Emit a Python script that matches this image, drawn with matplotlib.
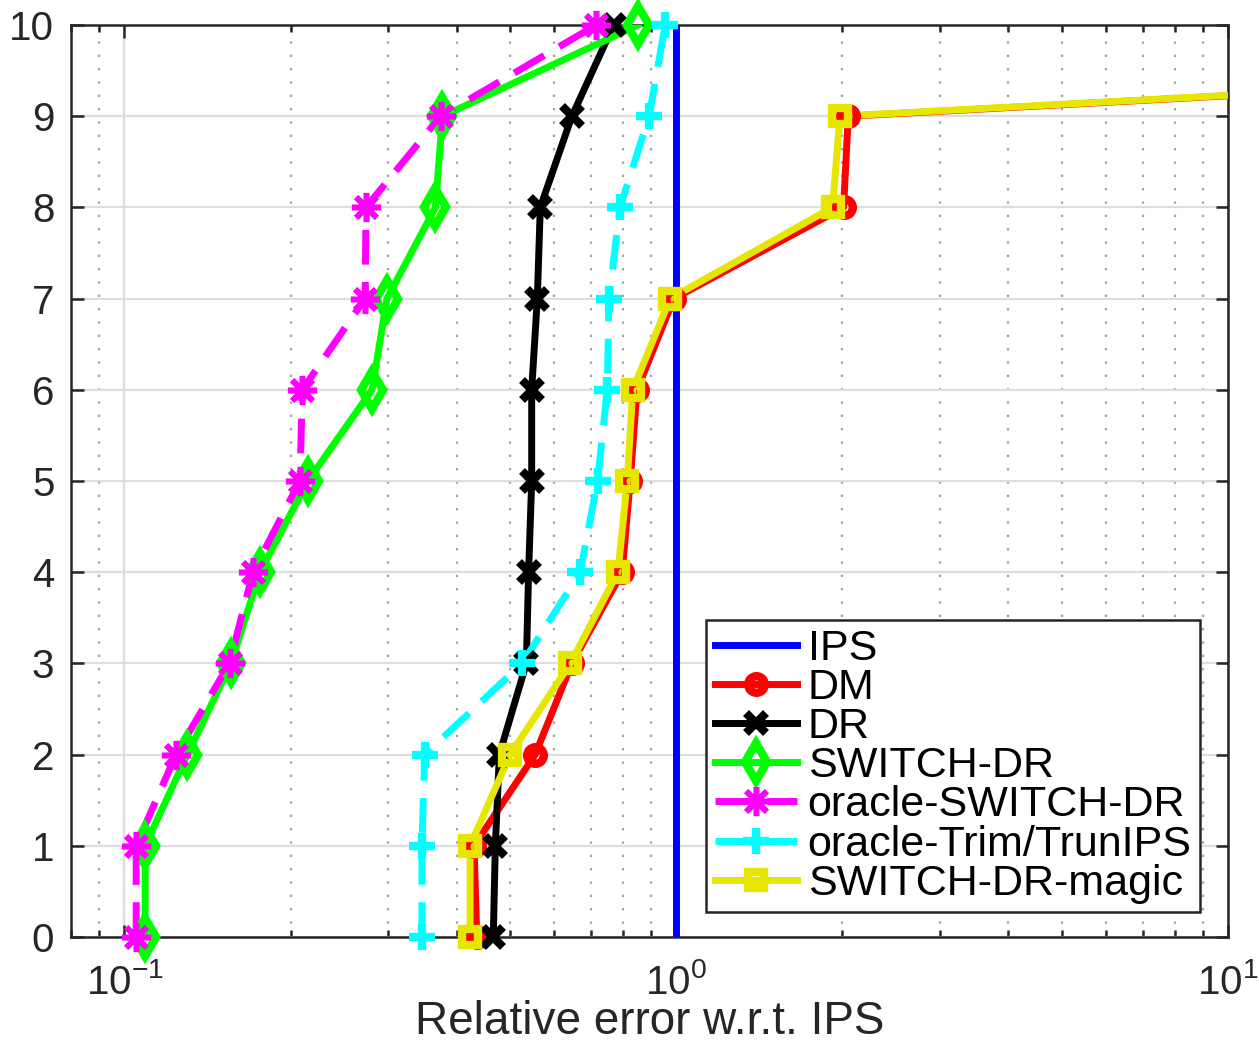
import numpy as np
import matplotlib
matplotlib.use('Agg')
import matplotlib.pyplot as plt
from matplotlib.lines import Line2D
from matplotlib.ticker import LogLocator, NullFormatter

plt.rcParams['font.family'] = ['Liberation Sans', 'DejaVu Sans']
plt.rcParams['mathtext.fontset'] = 'custom'
plt.rcParams['mathtext.rm'] = 'Liberation Sans'

levels = np.arange(0, 11)

ips = [1.0] * 11
dm = [0.435, 0.43, 0.555, 0.647, 0.798, 0.825, 0.849, 0.99, 2.01, 2.05, 2400]
dr = [0.466, 0.47, 0.478, 0.535, 0.54, 0.547, 0.547, 0.56, 0.567, 0.647, 0.77]
switch_dr = [0.109, 0.109, 0.130, 0.156, 0.176, 0.215, 0.281, 0.299, 0.366, 0.377, 0.853]
oracle_switch = [0.105, 0.105, 0.124, 0.155, 0.171, 0.208, 0.21, 0.273, 0.274, 0.374, 0.716]
oracle_trim = [0.346, 0.346, 0.35, 0.526, 0.67, 0.72, 0.75, 0.755, 0.791, 0.893, 0.955]
magic = [0.423, 0.423, 0.50, 0.643, 0.784, 0.815, 0.834, 0.975, 1.92, 1.98, 2400]

DASH = (0, (5, 2.5))
series = [
    ('IPS', ips, dict(color=(0, 0, 1), marker='None', ms=0, mew=0, ls='-')),
    ('DM', dm, dict(color=(1, 0, 0), marker='o', ms=12, mew=6, ls='-')),
    ('DR', dr, dict(color='k', marker='x', ms=15, mew=6, ls='-')),
    ('SWITCH-DR', switch_dr, dict(color=(0, 1, 0), marker='d', ms=19, mew=6, ls='-')),
    ('oracle-SWITCH-DR', oracle_switch, dict(color=(1, 0, 1), marker=(8, 2, 0), ms=21, mew=4, ls=DASH)),
    ('oracle-Trim/TrunIPS', oracle_trim, dict(color=(0, 1, 1), marker='+', ms=19, mew=6, ls=DASH)),
    ('SWITCH-DR-magic', magic, dict(color=(0.9, 0.9, 0), marker='s', ms=12, mew=6, ls='-')),
]

XMIN, XMAX = 0.08, 10

fig = plt.figure(figsize=(12.59, 10.51), dpi=100)
ax = fig.add_axes([0.0564, 0.1085, 0.919, 0.8677])

LW = 5
handles = []
for name, xs, st in series:
    xs = np.asarray(xs, dtype=float)
    ax.plot(xs, levels, color=st['color'], lw=LW, ls=st['ls'], zorder=3)
    if st['marker'] != 'None':
        m = xs <= XMAX
        ax.plot(xs[m], levels[m], ls='none', marker=st['marker'], ms=st['ms'],
                mec=st['color'], mfc='none', mew=st['mew'], clip_on=False, zorder=4)
    handles.append(Line2D([], [], color=st['color'], lw=LW, ls=st['ls'],
                          marker=st['marker'], ms=st['ms'], mec=st['color'],
                          mfc='none', mew=st['mew']))

ax.set_xscale('log')
ax.set_xlim(XMIN, XMAX)
ax.set_ylim(0, 10)
ax.set_yticks(range(0, 11))
ax.xaxis.set_minor_locator(LogLocator(base=10, subs=np.arange(2, 10)))
ax.xaxis.set_minor_formatter(NullFormatter())

ax.grid(True, which='major', color='#dedede', lw=1.6, ls='-')
ax.grid(True, which='minor', axis='x', color='#a0a0a0', lw=1.6, ls=(0, (1, 5)))
ax.set_axisbelow(True)

for sp in ax.spines.values():
    sp.set_color('#262626')
    sp.set_linewidth(1.8)
ax.tick_params(which='both', direction='in', top=True, right=True,
               color='#262626', width=1.8, labelsize=29, labelcolor='#262626')
ax.tick_params(which='major', length=9)
ax.tick_params(which='minor', length=5)
ax.tick_params(axis='y', pad=12)
ax.tick_params(axis='x', pad=19)

ax.set_xlabel('Relative error w.r.t. IPS', fontsize=33, color='#262626', labelpad=-2)

leg = ax.legend(handles, [s[0] for s in series], loc='lower right',
                bbox_to_anchor=(0.976, 0.027), fontsize=31, numpoints=1,
                handlelength=1.9, handletextpad=0.25, labelspacing=-0.02,
                borderpad=0.2, borderaxespad=0, fancybox=False, framealpha=1)
leg.get_frame().set_edgecolor('#262626')
leg.get_frame().set_linewidth(1.8)

fig.savefig('out.png', dpi=100)
